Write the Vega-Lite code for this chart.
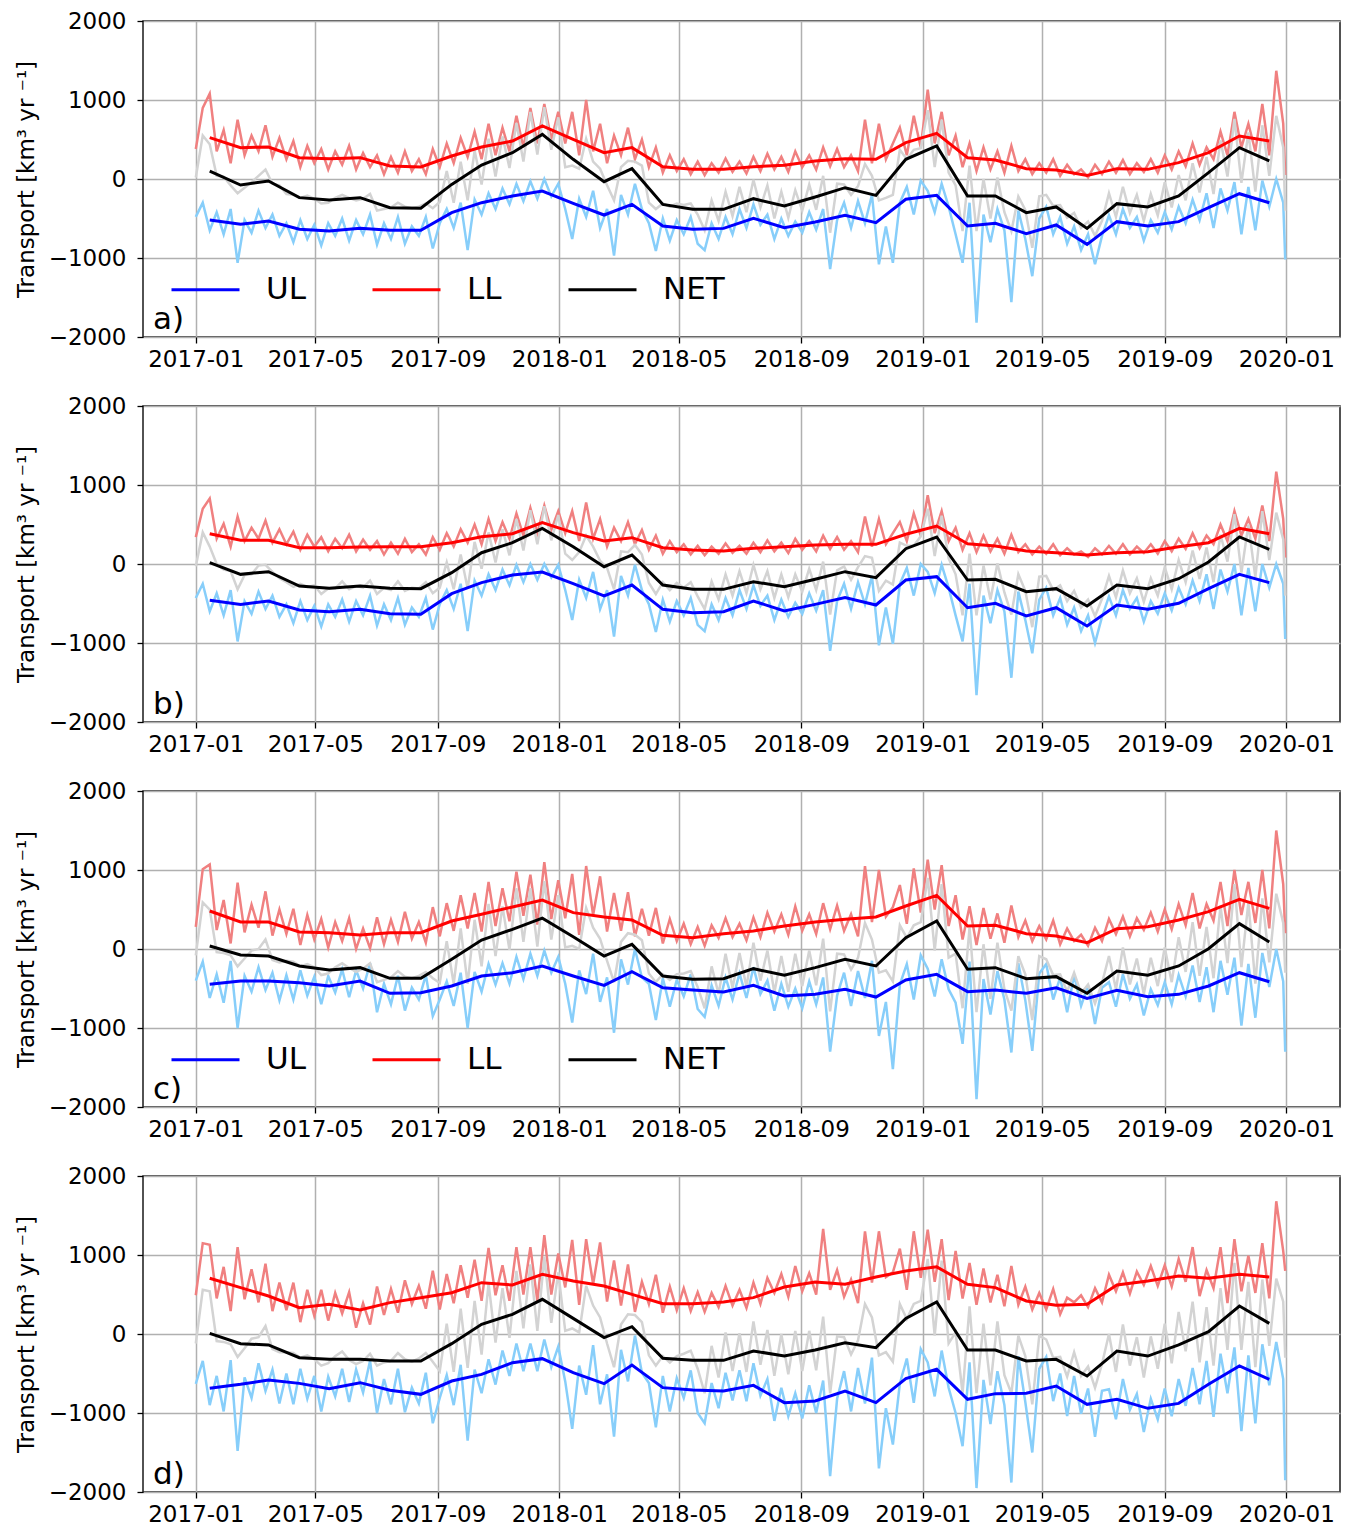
{
"$schema": "https://vega.github.io/schema/vega-lite/v6.json",
"padding": {"left": 14, "top": 9, "right": 5, "bottom": 5},
"autosize": {"type": "pad"},
"bounds": "flush",
"spacing": 69,
"config": {
 "font": "DejaVu Sans",
 "view": {"stroke": "#1a1a1a", "strokeWidth": 1.5},
 "axis": {"labelFont": "DejaVu Sans", "labelFontSize": 23, "labelColor": "#000", "titleFont": "DejaVu Sans", "titleFontSize": 23, "titleFontWeight": "normal", "titleColor": "#000", "tickColor": "#000", "tickSize": 6, "tickWidth": 1.3, "domain": false, "gridColor": "#b0b0b0", "gridWidth": 1.5, "grid": true}
},
"resolve": {"scale": {"x": "independent", "y": "independent", "color": "independent", "stroke": "independent"}},
"datasets": {
"daily": [
{"d":"2017-01-01","aU":-480,"aL":380,"aN":20,"bU":-430,"bL":340,"bN":-30,"cU":-400,"cL":280,"cN":-80,"dU":-630,"dL":490,"dN":-120},
{"d":"2017-01-08","aU":-300,"aL":900,"aN":550,"bU":-250,"bL":700,"bN":400,"cU":-160,"cL":1010,"cN":590,"dU":-340,"dL":1150,"dN":560},
{"d":"2017-01-15","aU":-650,"aL":1080,"aN":440,"bU":-600,"bL":830,"bN":220,"cU":-620,"cL":1070,"cN":500,"dU":-900,"dL":1130,"dN":540},
{"d":"2017-01-22","aU":-420,"aL":350,"aN":40,"bU":-370,"bL":320,"bN":0,"cU":-320,"cL":240,"cN":-40,"dU":-530,"dL":450,"dN":-90},
{"d":"2017-01-29","aU":-700,"aL":620,"aN":30,"bU":-650,"bL":510,"bN":-70,"cU":-680,"cL":620,"cN":-50,"dU":-980,"dL":850,"dN":-100},
{"d":"2017-02-05","aU":-380,"aL":200,"aN":-80,"bU":-330,"bL":220,"bN":-90,"cU":-150,"cL":70,"cN":-80,"dU":-330,"dL":290,"dN":-130},
{"d":"2017-02-12","aU":-1060,"aL":750,"aN":-180,"bU":-980,"bL":600,"bN":-320,"cU":-1000,"cL":840,"cN":-220,"dU":-1480,"dL":1100,"dN":-290},
{"d":"2017-02-19","aU":-520,"aL":300,"aN":-110,"bU":-470,"bL":290,"bN":-140,"cU":-340,"cL":210,"cN":-120,"dU":-550,"dL":440,"dN":-180},
{"d":"2017-02-26","aU":-680,"aL":550,"aN":-40,"bU":-630,"bL":460,"bN":-130,"cU":-540,"cL":560,"cN":-20,"dU":-810,"dL":820,"dN":-60},
{"d":"2017-03-05","aU":-400,"aL":350,"aN":40,"bU":-350,"bL":320,"bN":-20,"cU":-230,"cL":270,"cN":0,"dU":-370,"dL":400,"dN":-40},
{"d":"2017-03-12","aU":-620,"aL":680,"aN":120,"bU":-570,"bL":550,"bN":-10,"cU":-520,"cL":730,"cN":120,"dU":-720,"dL":890,"dN":100},
{"d":"2017-03-19","aU":-450,"aL":280,"aN":-60,"bU":-400,"bL":270,"bN":-100,"cU":-300,"cL":170,"cN":-140,"dU":-450,"dL":290,"dN":-190},
{"d":"2017-03-26","aU":-720,"aL":520,"aN":-80,"bU":-670,"bL":440,"bN":-180,"cU":-650,"cL":500,"cN":-170,"dU":-880,"dL":650,"dN":-230},
{"d":"2017-04-02","aU":-560,"aL":250,"aN":-190,"bU":-510,"bL":250,"bN":-230,"cU":-330,"cL":190,"cN":-150,"dU":-500,"dL":300,"dN":-230},
{"d":"2017-04-09","aU":-800,"aL":480,"aN":-200,"bU":-750,"bL":410,"bN":-290,"cU":-640,"cL":510,"cN":-160,"dU":-890,"dL":650,"dN":-240},
{"d":"2017-04-16","aU":-520,"aL":150,"aN":-240,"bU":-470,"bL":180,"bN":-250,"cU":-270,"cL":50,"cN":-220,"dU":-440,"dL":150,"dN":-300},
{"d":"2017-04-23","aU":-760,"aL":420,"aN":-210,"bU":-710,"bL":370,"bN":-290,"cU":-590,"cL":430,"cN":-190,"dU":-820,"dL":560,"dN":-270},
{"d":"2017-04-30","aU":-580,"aL":200,"aN":-250,"bU":-530,"bL":220,"bN":-270,"cU":-350,"cL":120,"cN":-230,"dU":-530,"dL":230,"dN":-320},
{"d":"2017-05-07","aU":-840,"aL":380,"aN":-310,"bU":-790,"bL":340,"bN":-380,"cU":-700,"cL":380,"cN":-330,"dU":-980,"dL":560,"dN":-400},
{"d":"2017-05-14","aU":-560,"aL":120,"aN":-300,"bU":-510,"bL":160,"bN":-310,"cU":-340,"cL":20,"cN":-310,"dU":-540,"dL":170,"dN":-370},
{"d":"2017-05-21","aU":-720,"aL":350,"aN":-240,"bU":-670,"bL":320,"bN":-310,"cU":-550,"cL":340,"cN":-230,"dU":-790,"dL":520,"dN":-280},
{"d":"2017-05-28","aU":-500,"aL":180,"aN":-200,"bU":-450,"bL":200,"bN":-220,"cU":-260,"cL":100,"cN":-180,"dU":-440,"dL":260,"dN":-220},
{"d":"2017-06-04","aU":-780,"aL":420,"aN":-240,"bU":-730,"bL":370,"bN":-320,"cU":-610,"cL":390,"cN":-240,"dU":-860,"dL":530,"dN":-330},
{"d":"2017-06-11","aU":-520,"aL":120,"aN":-270,"bU":-470,"bL":160,"bN":-280,"cU":-270,"cL":0,"cN":-290,"dU":-450,"dL":80,"dN":-380},
{"d":"2017-06-18","aU":-700,"aL":330,"aN":-250,"bU":-650,"bL":310,"bN":-300,"cU":-500,"cL":260,"cN":-250,"dU":-740,"dL":390,"dN":-340},
{"d":"2017-06-25","aU":-450,"aL":150,"aN":-190,"bU":-400,"bL":180,"bN":-210,"cU":-180,"cL":10,"cN":-180,"dU":-340,"dL":120,"dN":-250},
{"d":"2017-07-02","aU":-830,"aL":300,"aN":-400,"bU":-780,"bL":290,"bN":-380,"cU":-800,"cL":400,"cN":-420,"dU":-1000,"dL":600,"dN":-400},
{"d":"2017-07-09","aU":-560,"aL":60,"aN":-380,"bU":-510,"bL":120,"bN":-300,"cU":-440,"cL":60,"cN":-390,"dU":-570,"dL":240,"dN":-360},
{"d":"2017-07-16","aU":-760,"aL":280,"aN":-360,"bU":-710,"bL":270,"bN":-330,"cU":-700,"cL":370,"cN":-360,"dU":-890,"dL":570,"dN":-340},
{"d":"2017-07-23","aU":-480,"aL":80,"aN":-300,"bU":-430,"bL":130,"bN":-220,"cU":-340,"cL":90,"cN":-280,"dU":-440,"dL":270,"dN":-240},
{"d":"2017-07-30","aU":-820,"aL":350,"aN":-350,"bU":-770,"bL":320,"bN":-340,"cU":-780,"cL":470,"cN":-350,"dU":-990,"dL":680,"dN":-320},
{"d":"2017-08-06","aU":-600,"aL":100,"aN":-370,"bU":-550,"bL":150,"bN":-300,"cU":-490,"cL":130,"cN":-370,"dU":-680,"dL":380,"dN":-350},
{"d":"2017-08-13","aU":-720,"aL":250,"aN":-350,"bU":-670,"bL":250,"bN":-310,"cU":-640,"cL":340,"cN":-340,"dU":-880,"dL":610,"dN":-310},
{"d":"2017-08-20","aU":-480,"aL":60,"aN":-310,"bU":-430,"bL":120,"bN":-230,"cU":-330,"cL":80,"cN":-290,"dU":-490,"dL":320,"dN":-240},
{"d":"2017-08-27","aU":-880,"aL":380,"aN":-370,"bU":-830,"bL":340,"bN":-370,"cU":-850,"cL":530,"cN":-370,"dU":-1130,"dL":800,"dN":-350},
{"d":"2017-09-03","aU":-560,"aL":150,"aN":-290,"bU":-510,"bL":180,"bN":-300,"cU":-640,"cL":160,"cN":-430,"dU":-810,"dL":310,"dN":-470},
{"d":"2017-09-10","aU":-380,"aL":450,"aN":100,"bU":-330,"bL":390,"bN":20,"cU":-410,"cL":580,"cN":100,"dU":-520,"dL":760,"dN":130},
{"d":"2017-09-17","aU":-620,"aL":200,"aN":-300,"bU":-570,"bL":220,"bN":-320,"cU":-720,"cL":230,"cN":-440,"dU":-900,"dL":390,"dN":-480},
{"d":"2017-09-24","aU":-300,"aL":520,"aN":220,"bU":-250,"bL":440,"bN":120,"cU":-300,"cL":680,"cN":260,"dU":-390,"dL":870,"dN":320},
{"d":"2017-10-01","aU":-900,"aL":280,"aN":-270,"bU":-850,"bL":270,"bN":-310,"cU":-1000,"cL":260,"cN":-440,"dU":-1350,"dL":460,"dN":-430},
{"d":"2017-10-08","aU":-260,"aL":600,"aN":360,"bU":-210,"bL":500,"bN":280,"cU":-290,"cL":710,"cN":370,"dU":-450,"dL":940,"dN":420},
{"d":"2017-10-15","aU":-450,"aL":250,"aN":-70,"bU":-400,"bL":250,"bN":-60,"cU":-540,"cL":220,"cN":-220,"dU":-750,"dL":420,"dN":-260},
{"d":"2017-10-22","aU":-180,"aL":700,"aN":510,"bU":-130,"bL":570,"bN":400,"cU":-190,"cL":850,"cN":570,"dU":-320,"dL":1090,"dN":640},
{"d":"2017-10-29","aU":-380,"aL":300,"aN":30,"bU":-330,"bL":290,"bN":20,"cU":-450,"cL":290,"cN":-90,"dU":-640,"dL":490,"dN":-110},
{"d":"2017-11-05","aU":-120,"aL":650,"aN":540,"bU":-70,"bL":530,"bN":440,"cU":-180,"cL":770,"cN":540,"dU":-210,"dL":870,"dN":580},
{"d":"2017-11-12","aU":-320,"aL":350,"aN":140,"bU":-270,"bL":320,"bN":110,"cU":-440,"cL":350,"cN":-10,"dU":-530,"dL":420,"dN":-50},
{"d":"2017-11-19","aU":-60,"aL":800,"aN":710,"bU":-10,"bL":640,"bN":570,"cU":-100,"cL":980,"cN":770,"dU":-120,"dL":1100,"dN":800},
{"d":"2017-11-26","aU":-280,"aL":400,"aN":220,"bU":-230,"bL":360,"bN":170,"cU":-380,"cL":420,"cN":90,"dU":-470,"dL":500,"dN":70},
{"d":"2017-12-03","aU":-30,"aL":900,"aN":850,"bU":0,"bL":710,"bN":680,"cU":-60,"cL":940,"cN":770,"dU":-120,"dL":1100,"dN":880},
{"d":"2017-12-10","aU":-250,"aL":450,"aN":310,"bU":-200,"bL":390,"bN":250,"cU":-340,"cL":310,"cN":30,"dU":-470,"dL":420,"dN":40},
{"d":"2017-12-17","aU":0,"aL":950,"aN":910,"bU":0,"bL":740,"bN":730,"cU":-20,"cL":1100,"cN":860,"dU":-70,"dL":1250,"dN":980},
{"d":"2017-12-24","aU":-220,"aL":500,"aN":370,"bU":-170,"bL":430,"bN":300,"cU":-300,"cL":380,"cN":120,"dU":-420,"dL":500,"dN":140},
{"d":"2017-12-31","aU":-60,"aL":850,"aN":780,"bU":-10,"bL":670,"bN":620,"cU":-100,"cL":870,"cN":680,"dU":-160,"dL":1020,"dN":780},
{"d":"2018-01-07","aU":-380,"aL":450,"aN":150,"bU":-330,"bL":390,"bN":130,"cU":-440,"cL":390,"cN":20,"dU":-600,"dL":590,"dN":40},
{"d":"2018-01-14","aU":-760,"aL":850,"aN":170,"bU":-710,"bL":670,"bN":50,"cU":-930,"cL":950,"cN":40,"dU":-1200,"dL":1190,"dN":70},
{"d":"2018-01-21","aU":-250,"aL":300,"aN":130,"bU":-200,"bL":290,"bN":150,"cU":-270,"cL":180,"cN":0,"dU":-400,"dL":370,"dN":20},
{"d":"2018-01-28","aU":-480,"aL":1000,"aN":510,"bU":-430,"bL":780,"bN":360,"cU":-570,"cL":1050,"cN":520,"dU":-770,"dL":1200,"dN":610},
{"d":"2018-02-04","aU":-150,"aL":350,"aN":220,"bU":-100,"bL":320,"bN":220,"cU":-60,"cL":430,"cN":270,"dU":-140,"dL":630,"dN":360},
{"d":"2018-02-11","aU":-620,"aL":700,"aN":130,"bU":-570,"bL":570,"bN":40,"cU":-670,"cL":920,"cN":130,"dU":-890,"dL":1160,"dN":210},
{"d":"2018-02-18","aU":-380,"aL":200,"aN":-80,"bU":-330,"bL":220,"bN":-50,"cU":-360,"cL":220,"cN":-150,"dU":-510,"dL":410,"dN":-120},
{"d":"2018-02-25","aU":-970,"aL":550,"aN":-270,"bU":-920,"bL":460,"bN":-320,"cU":-1060,"cL":710,"cN":-420,"dU":-1300,"dL":930,"dN":-420},
{"d":"2018-03-04","aU":-200,"aL":300,"aN":150,"bU":-150,"bL":290,"bN":160,"cU":-130,"cL":230,"cN":90,"dU":-200,"dL":360,"dN":120},
{"d":"2018-03-11","aU":-450,"aL":650,"aN":230,"bU":-400,"bL":530,"bN":150,"cU":-450,"cL":720,"cN":200,"dU":-600,"dL":880,"dN":250},
{"d":"2018-03-18","aU":-60,"aL":250,"aN":220,"bU":-10,"bL":250,"bN":240,"cU":0,"cL":160,"cN":180,"dU":-20,"dL":280,"dN":240},
{"d":"2018-03-25","aU":-380,"aL":500,"aN":170,"bU":-330,"bL":430,"bN":120,"cU":-360,"cL":510,"cN":110,"dU":-490,"dL":660,"dN":150},
{"d":"2018-04-01","aU":-560,"aL":150,"aN":-300,"bU":-510,"bL":180,"bN":-240,"cU":-440,"cL":170,"cN":-310,"dU":-620,"dL":380,"dN":-270},
{"d":"2018-04-08","aU":-910,"aL":400,"aN":-380,"bU":-860,"bL":360,"bN":-380,"cU":-900,"cL":520,"cN":-420,"dU":-1180,"dL":750,"dN":-400},
{"d":"2018-04-15","aU":-500,"aL":80,"aN":-310,"bU":-450,"bL":130,"bN":-230,"cU":-370,"cL":70,"cN":-320,"dU":-530,"dL":270,"dN":-280},
{"d":"2018-04-22","aU":-780,"aL":300,"aN":-350,"bU":-730,"bL":290,"bN":-330,"cU":-730,"cL":380,"cN":-390,"dU":-980,"dL":600,"dN":-360},
{"d":"2018-04-29","aU":-520,"aL":100,"aN":-310,"bU":-470,"bL":150,"bN":-240,"cU":-390,"cL":100,"cN":-320,"dU":-560,"dL":300,"dN":-280},
{"d":"2018-05-06","aU":-700,"aL":250,"aN":-330,"bU":-650,"bL":250,"bN":-300,"cU":-600,"cL":320,"cN":-310,"dU":-810,"dL":580,"dN":-250},
{"d":"2018-05-13","aU":-480,"aL":60,"aN":-310,"bU":-430,"bL":120,"bN":-230,"cU":-320,"cL":60,"cN":-280,"dU":-460,"dL":290,"dN":-210},
{"d":"2018-05-20","aU":-820,"aL":220,"aN":-450,"bU":-770,"bL":230,"bN":-410,"cU":-760,"cL":280,"cN":-480,"dU":-1000,"dL":530,"dN":-440},
{"d":"2018-05-27","aU":-900,"aL":50,"aN":-650,"bU":-850,"bL":110,"bN":-570,"cU":-860,"cL":40,"cN":-750,"dU":-1130,"dL":280,"dN":-750},
{"d":"2018-06-03","aU":-560,"aL":200,"aN":-270,"bU":-510,"bL":220,"bN":-220,"cU":-460,"cL":300,"cN":-220,"dU":-620,"dL":520,"dN":-150},
{"d":"2018-06-10","aU":-760,"aL":80,"aN":-530,"bU":-710,"bL":130,"bN":-450,"cU":-720,"cL":140,"cN":-570,"dU":-940,"dL":340,"dN":-550},
{"d":"2018-06-17","aU":-480,"aL":260,"aN":-160,"bU":-430,"bL":260,"bN":-130,"cU":-360,"cL":390,"cN":-60,"dU":-490,"dL":610,"dN":20},
{"d":"2018-06-24","aU":-700,"aL":90,"aN":-470,"bU":-650,"bL":140,"bN":-400,"cU":-640,"cL":150,"cN":-490,"dU":-840,"dL":360,"dN":-470},
{"d":"2018-07-01","aU":-380,"aL":220,"aN":-100,"bU":-330,"bL":230,"bN":-90,"cU":-310,"cL":320,"cN":-50,"dU":-460,"dL":560,"dN":10},
{"d":"2018-07-08","aU":-620,"aL":70,"aN":-420,"bU":-570,"bL":130,"bN":-370,"cU":-620,"cL":110,"cN":-480,"dU":-850,"dL":330,"dN":-480},
{"d":"2018-07-15","aU":-320,"aL":280,"aN":-10,"bU":-270,"bL":270,"bN":-10,"cU":-230,"cL":400,"cN":80,"dU":-370,"dL":650,"dN":160},
{"d":"2018-07-22","aU":-580,"aL":100,"aN":-360,"bU":-530,"bL":150,"bN":-320,"cU":-570,"cL":150,"cN":-400,"dU":-780,"dL":380,"dN":-390},
{"d":"2018-07-29","aU":-450,"aL":320,"aN":-80,"bU":-400,"bL":300,"bN":-90,"cU":-400,"cL":460,"cN":-20,"dU":-570,"dL":710,"dN":50},
{"d":"2018-08-05","aU":-760,"aL":120,"aN":-500,"bU":-710,"bL":160,"bN":-430,"cU":-780,"cL":220,"cN":-550,"dU":-1100,"dL":520,"dN":-530},
{"d":"2018-08-12","aU":-500,"aL":280,"aN":-160,"bU":-450,"bL":270,"bN":-130,"cU":-440,"cL":440,"cN":-90,"dU":-680,"dL":760,"dN":0},
{"d":"2018-08-19","aU":-720,"aL":90,"aN":-490,"bU":-670,"bL":140,"bN":-420,"cU":-730,"cL":180,"cN":-540,"dU":-1040,"dL":470,"dN":-510},
{"d":"2018-08-26","aU":-540,"aL":350,"aN":-140,"bU":-490,"bL":320,"bN":-130,"cU":-500,"cL":540,"cN":-60,"dU":-750,"dL":860,"dN":40},
{"d":"2018-09-02","aU":-680,"aL":150,"aN":-400,"bU":-630,"bL":180,"bN":-350,"cU":-750,"cL":230,"cN":-470,"dU":-1070,"dL":540,"dN":-470},
{"d":"2018-09-09","aU":-420,"aL":300,"aN":-70,"bU":-370,"bL":290,"bN":-60,"cU":-410,"cL":440,"cN":-20,"dU":-650,"dL":770,"dN":40},
{"d":"2018-09-16","aU":-640,"aL":120,"aN":-390,"bU":-590,"bL":160,"bN":-330,"cU":-700,"cL":190,"cN":-460,"dU":-1000,"dL":500,"dN":-460},
{"d":"2018-09-23","aU":-380,"aL":400,"aN":40,"bU":-330,"bL":360,"bN":30,"cU":-360,"cL":580,"cN":130,"dU":-590,"dL":1330,"dN":220},
{"d":"2018-09-30","aU":-1140,"aL":160,"aN":-680,"bU":-1100,"bL":190,"bN":-640,"cU":-1300,"cL":250,"cN":-790,"dU":-1800,"dL":560,"dN":-750},
{"d":"2018-10-07","aU":-520,"aL":380,"aN":-60,"bU":-470,"bL":340,"bN":-80,"cU":-590,"cL":550,"cN":-60,"dU":-820,"dL":810,"dN":-30},
{"d":"2018-10-14","aU":-300,"aL":150,"aN":-70,"bU":-250,"bL":180,"bN":-30,"cU":-300,"cL":230,"cN":-70,"dU":-470,"dL":470,"dN":-40},
{"d":"2018-10-21","aU":-620,"aL":300,"aN":-200,"bU":-570,"bL":290,"bN":-200,"cU":-720,"cL":440,"cN":-260,"dU":-980,"dL":690,"dN":-260},
{"d":"2018-10-28","aU":-280,"aL":100,"aN":-90,"bU":-230,"bL":150,"bN":-40,"cU":-280,"cL":160,"cN":-110,"dU":-430,"dL":390,"dN":-80},
{"d":"2018-11-04","aU":-560,"aL":750,"aN":190,"bU":-510,"bL":600,"bN":100,"cU":-620,"cL":1050,"cN":330,"dU":-880,"dL":1300,"dN":380},
{"d":"2018-11-11","aU":-200,"aL":200,"aN":40,"bU":-150,"bL":220,"bN":80,"cU":-150,"cL":340,"cN":120,"dU":-300,"dL":650,"dN":210},
{"d":"2018-11-18","aU":-1080,"aL":700,"aN":-270,"bU":-1030,"bL":570,"bN":-340,"cU":-1100,"cL":1000,"cN":-300,"dU":-1700,"dL":1300,"dN":-270},
{"d":"2018-11-25","aU":-600,"aL":250,"aN":-240,"bU":-550,"bL":250,"bN":-210,"cU":-670,"cL":410,"cN":-270,"dU":-940,"dL":720,"dN":-230},
{"d":"2018-12-02","aU":-1060,"aL":450,"aN":-200,"bU":-1010,"bL":390,"bN":-260,"cU":-1520,"cL":530,"cN":-410,"dU":-1400,"dL":780,"dN":-350},
{"d":"2018-12-09","aU":-300,"aL":650,"aN":370,"bU":-250,"bL":530,"bN":270,"cU":-450,"cL":810,"cN":300,"dU":-630,"dL":1080,"dN":380},
{"d":"2018-12-16","aU":-100,"aL":300,"aN":250,"bU":-50,"bL":290,"bN":230,"cU":-190,"cL":320,"cN":140,"dU":-310,"dL":560,"dN":190},
{"d":"2018-12-23","aU":-450,"aL":800,"aN":370,"bU":-400,"bL":640,"bN":230,"cU":-640,"cL":1020,"cN":300,"dU":-870,"dL":1300,"dN":380},
{"d":"2018-12-30","aU":-20,"aL":400,"aN":390,"bU":0,"bL":360,"bN":350,"cU":-80,"cL":460,"cN":340,"dU":-190,"dL":710,"dN":420},
{"d":"2019-01-06","aU":-150,"aL":1130,"aN":870,"bU":-100,"bL":870,"bN":700,"cU":-250,"cL":1130,"cN":900,"dU":-360,"dL":1320,"dN":950},
{"d":"2019-01-13","aU":-420,"aL":450,"aN":150,"bU":-370,"bL":390,"bN":100,"cU":-600,"cL":500,"cN":-20,"dU":-790,"dL":660,"dN":-20},
{"d":"2019-01-20","aU":-60,"aL":850,"aN":750,"bU":-10,"bL":670,"bN":610,"cU":-130,"cL":1060,"cN":820,"dU":-210,"dL":1200,"dN":930},
{"d":"2019-01-27","aU":-350,"aL":300,"aN":80,"bU":-300,"bL":290,"bN":70,"cU":-510,"cL":290,"cN":-110,"dU":-680,"dL":430,"dN":-120},
{"d":"2019-02-03","aU":-700,"aL":550,"aN":-80,"bU":-650,"bL":460,"bN":-130,"cU":-680,"cL":680,"cN":-60,"dU":-1000,"dL":1050,"dN":20},
{"d":"2019-02-10","aU":-1060,"aL":150,"aN":-660,"bU":-980,"bL":180,"bN":-650,"cU":-1200,"cL":120,"cN":-750,"dU":-1420,"dL":450,"dN":-750},
{"d":"2019-02-17","aU":-300,"aL":450,"aN":170,"bU":-250,"bL":390,"bN":130,"cU":-160,"cL":540,"cN":270,"dU":-360,"dL":900,"dN":350},
{"d":"2019-02-24","aU":-1820,"aL":100,"aN":-660,"bU":-1660,"bL":150,"bN":-650,"cU":-1900,"cL":50,"cN":-800,"dU":-1950,"dL":370,"dN":-750},
{"d":"2019-03-03","aU":-450,"aL":400,"aN":0,"bU":-400,"bL":360,"bN":-20,"cU":-380,"cL":520,"cN":60,"dU":-580,"dL":830,"dN":130},
{"d":"2019-03-10","aU":-800,"aL":120,"aN":-500,"bU":-750,"bL":160,"bN":-450,"cU":-830,"cL":130,"cN":-630,"dU":-1140,"dL":400,"dN":-650},
{"d":"2019-03-17","aU":-380,"aL":350,"aN":20,"bU":-330,"bL":320,"bN":10,"cU":-280,"cL":450,"cN":80,"dU":-470,"dL":750,"dN":160},
{"d":"2019-03-24","aU":-650,"aL":80,"aN":-420,"bU":-600,"bL":130,"bN":-360,"cU":-640,"cL":80,"cN":-510,"dU":-900,"dL":350,"dN":-520},
{"d":"2019-03-31","aU":-1560,"aL":420,"aN":-660,"bU":-1440,"bL":370,"bN":-640,"cU":-1310,"cL":550,"cN":-780,"dU":-1880,"dL":860,"dN":-750},
{"d":"2019-04-07","aU":-400,"aL":100,"aN":-220,"bU":-350,"bL":150,"bN":-130,"cU":-180,"cL":150,"cN":-90,"dU":-280,"dL":370,"dN":-20},
{"d":"2019-04-14","aU":-760,"aL":250,"aN":-390,"bU":-710,"bL":250,"bN":-340,"cU":-650,"cL":360,"cN":-320,"dU":-860,"dL":600,"dN":-280},
{"d":"2019-04-21","aU":-1230,"aL":60,"aN":-870,"bU":-1130,"bL":120,"bN":-800,"cU":-1290,"cL":100,"cN":-900,"dU":-1500,"dL":310,"dN":-890},
{"d":"2019-04-28","aU":-500,"aL":200,"aN":-220,"bU":-450,"bL":220,"bN":-160,"cU":-310,"cL":290,"cN":-90,"dU":-440,"dL":520,"dN":-20},
{"d":"2019-05-05","aU":-350,"aL":80,"aN":-200,"bU":-300,"bL":130,"bN":-150,"cU":-190,"cL":120,"cN":-130,"dU":-290,"dL":310,"dN":-70},
{"d":"2019-05-12","aU":-700,"aL":250,"aN":-340,"bU":-650,"bL":250,"bN":-330,"cU":-640,"cL":360,"cN":-330,"dU":-850,"dL":570,"dN":-300},
{"d":"2019-05-19","aU":-480,"aL":40,"aN":-330,"bU":-430,"bL":110,"bN":-270,"cU":-360,"cL":60,"cN":-320,"dU":-500,"dL":250,"dN":-290},
{"d":"2019-05-26","aU":-820,"aL":180,"aN":-490,"bU":-770,"bL":200,"bN":-470,"cU":-800,"cL":260,"cN":-540,"dU":-1040,"dL":460,"dN":-540},
{"d":"2019-06-02","aU":-600,"aL":60,"aN":-430,"bU":-550,"bL":120,"bN":-340,"cU":-330,"cL":100,"cN":-300,"dU":-530,"dL":400,"dN":-230},
{"d":"2019-06-09","aU":-900,"aL":120,"aN":-620,"bU":-850,"bL":160,"bN":-550,"cU":-720,"cL":180,"cN":-560,"dU":-1010,"dL":490,"dN":-530},
{"d":"2019-06-16","aU":-700,"aL":20,"aN":-540,"bU":-650,"bL":90,"bN":-450,"cU":-460,"cL":40,"cN":-450,"dU":-690,"dL":340,"dN":-410},
{"d":"2019-06-23","aU":-1080,"aL":180,"aN":-720,"bU":-1000,"bL":200,"bN":-660,"cU":-950,"cL":270,"cN":-690,"dU":-1300,"dL":580,"dN":-680},
{"d":"2019-06-30","aU":-720,"aL":60,"aN":-530,"bU":-670,"bL":120,"bN":-440,"cU":-490,"cL":100,"cN":-430,"dU":-720,"dL":400,"dN":-380},
{"d":"2019-07-07","aU":-460,"aL":220,"aN":-180,"bU":-410,"bL":230,"bN":-150,"cU":-420,"cL":380,"cN":-90,"dU":-700,"dL":750,"dN":0},
{"d":"2019-07-14","aU":-700,"aL":80,"aN":-480,"bU":-650,"bL":130,"bN":-420,"cU":-730,"cL":190,"cN":-510,"dU":-1080,"dL":540,"dN":-480},
{"d":"2019-07-21","aU":-380,"aL":240,"aN":-100,"bU":-330,"bL":250,"bN":-80,"cU":-320,"cL":410,"cN":20,"dU":-570,"dL":780,"dN":120},
{"d":"2019-07-28","aU":-620,"aL":60,"aN":-430,"bU":-570,"bL":120,"bN":-370,"cU":-630,"cL":160,"cN":-450,"dU":-960,"dL":510,"dN":-400},
{"d":"2019-08-04","aU":-480,"aL":200,"aN":-200,"bU":-430,"bL":220,"bN":-180,"cU":-450,"cL":390,"cN":-120,"dU":-760,"dL":790,"dN":-40},
{"d":"2019-08-11","aU":-780,"aL":90,"aN":-530,"bU":-730,"bL":140,"bN":-480,"cU":-840,"cL":240,"cN":-570,"dU":-1240,"dL":620,"dN":-550},
{"d":"2019-08-18","aU":-520,"aL":250,"aN":-190,"bU":-470,"bL":250,"bN":-180,"cU":-510,"cL":460,"cN":-110,"dU":-820,"dL":860,"dN":-30},
{"d":"2019-08-25","aU":-680,"aL":80,"aN":-460,"bU":-630,"bL":130,"bN":-400,"cU":-710,"cL":220,"cN":-470,"dU":-1080,"dL":610,"dN":-440},
{"d":"2019-09-01","aU":-420,"aL":300,"aN":-40,"bU":-370,"bL":290,"bN":-40,"cU":-420,"cL":500,"cN":20,"dU":-690,"dL":870,"dN":130},
{"d":"2019-09-08","aU":-640,"aL":120,"aN":-360,"bU":-590,"bL":160,"bN":-320,"cU":-700,"cL":250,"cN":-420,"dU":-1040,"dL":600,"dN":-370},
{"d":"2019-09-15","aU":-350,"aL":350,"aN":50,"bU":-300,"bL":320,"bN":50,"cU":-330,"cL":570,"cN":150,"dU":-570,"dL":950,"dN":280},
{"d":"2019-09-22","aU":-560,"aL":160,"aN":-270,"bU":-510,"bL":190,"bN":-230,"cU":-600,"cL":300,"cN":-290,"dU":-910,"dL":660,"dN":-220},
{"d":"2019-09-29","aU":-260,"aL":450,"aN":200,"bU":-210,"bL":390,"bN":170,"cU":-210,"cL":710,"cN":340,"dU":-430,"dL":1100,"dN":410},
{"d":"2019-10-06","aU":-520,"aL":180,"aN":-170,"bU":-470,"bL":200,"bN":-190,"cU":-670,"cL":260,"cN":-340,"dU":-890,"dL":480,"dN":-360},
{"d":"2019-10-13","aU":-180,"aL":400,"aN":280,"bU":-130,"bL":360,"bN":210,"cU":-230,"cL":570,"cN":280,"dU":-340,"dL":810,"dN":340},
{"d":"2019-10-20","aU":-620,"aL":250,"aN":-190,"bU":-570,"bL":250,"bN":-230,"cU":-800,"cL":360,"cN":-370,"dU":-1050,"dL":580,"dN":-400},
{"d":"2019-10-27","aU":-120,"aL":600,"aN":490,"bU":-70,"bL":500,"bN":370,"cU":-150,"cL":850,"cN":550,"dU":-250,"dL":1100,"dN":580},
{"d":"2019-11-03","aU":-400,"aL":300,"aN":30,"bU":-350,"bL":290,"bN":30,"cU":-580,"cL":290,"cN":-180,"dU":-750,"dL":390,"dN":-200},
{"d":"2019-11-10","aU":-40,"aL":850,"aN":760,"bU":0,"bL":670,"bN":630,"cU":-110,"cL":1000,"cN":820,"dU":-170,"dL":1200,"dN":900},
{"d":"2019-11-17","aU":-700,"aL":400,"aN":-50,"bU":-650,"bL":360,"bN":-110,"cU":-970,"cL":430,"cN":-230,"dU":-1230,"dL":540,"dN":-200},
{"d":"2019-11-24","aU":-100,"aL":700,"aN":590,"bU":-50,"bL":570,"bN":500,"cU":-190,"cL":850,"cN":590,"dU":-270,"dL":990,"dN":660},
{"d":"2019-12-01","aU":-650,"aL":350,"aN":-160,"bU":-600,"bL":320,"bN":-170,"cU":-870,"cL":330,"cN":-440,"dU":-1130,"dL":520,"dN":-420},
{"d":"2019-12-08","aU":-20,"aL":950,"aN":680,"bU":0,"bL":740,"bN":670,"cU":-50,"cL":1000,"cN":640,"dU":-130,"dL":1150,"dN":690},
{"d":"2019-12-15","aU":-350,"aL":300,"aN":40,"bU":-300,"bL":290,"bN":50,"cU":-480,"cL":260,"cN":-170,"dU":-650,"dL":450,"dN":-150},
{"d":"2019-12-22","aU":0,"aL":1370,"aN":800,"bU":0,"bL":1170,"bN":650,"cU":0,"cL":1500,"cN":700,"dU":-100,"dL":1680,"dN":700},
{"d":"2019-12-29","aU":-300,"aL":700,"aN":400,"bU":-250,"bL":570,"bN":310,"cU":-410,"cL":820,"cN":330,"dU":-570,"dL":1050,"dN":410},
{"d":"2019-12-31","aU":-1020,"aL":50,"aN":-400,"bU":-950,"bL":80,"bN":-400,"cU":-1300,"cL":200,"cN":-300,"dU":-1850,"dL":800,"dN":-300}
],
"ma": [
{"d":"2017-01-15","UL":-519,"LL":523,"NET":101},{"d":"2017-02-15","UL":-574,"LL":397,"NET":-76},{"d":"2017-03-15","UL":-532,"LL":405,"NET":-25},{"d":"2017-04-15","UL":-637,"LL":270,"NET":-236},{"d":"2017-05-15","UL":-658,"LL":257,"NET":-266},{"d":"2017-06-15","UL":-625,"LL":270,"NET":-236},{"d":"2017-07-15","UL":-650,"LL":165,"NET":-363},{"d":"2017-08-15","UL":-650,"LL":152,"NET":-371},{"d":"2017-09-15","UL":-426,"LL":291,"NET":-68},{"d":"2017-10-15","UL":-300,"LL":405,"NET":177},{"d":"2017-11-15","UL":-215,"LL":481,"NET":333},{"d":"2017-12-15","UL":-152,"LL":671,"NET":565},
{"d":"2018-01-15","UL":-308,"LL":502,"NET":249},{"d":"2018-02-15","UL":-456,"LL":333,"NET":-34},{"d":"2018-03-15","UL":-321,"LL":397,"NET":131},{"d":"2018-04-15","UL":-595,"LL":156,"NET":-321},{"d":"2018-05-15","UL":-637,"LL":122,"NET":-384},{"d":"2018-06-15","UL":-625,"LL":122,"NET":-384},{"d":"2018-07-15","UL":-498,"LL":156,"NET":-249},{"d":"2018-08-15","UL":-616,"LL":173,"NET":-342},{"d":"2018-09-15","UL":-544,"LL":228,"NET":-228},{"d":"2018-10-15","UL":-460,"LL":257,"NET":-110},{"d":"2018-11-15","UL":-553,"LL":249,"NET":-207},{"d":"2018-12-15","UL":-257,"LL":460,"NET":249},
{"d":"2019-01-15","UL":-207,"LL":578,"NET":418},{"d":"2019-02-15","UL":-595,"LL":270,"NET":-215},{"d":"2019-03-15","UL":-561,"LL":241,"NET":-215},{"d":"2019-04-15","UL":-692,"LL":131,"NET":-426},{"d":"2019-05-15","UL":-582,"LL":114,"NET":-354},{"d":"2019-06-15","UL":-827,"LL":46,"NET":-625},{"d":"2019-07-15","UL":-540,"LL":131,"NET":-312},{"d":"2019-08-15","UL":-595,"LL":122,"NET":-354},{"d":"2019-09-15","UL":-540,"LL":207,"NET":-215},{"d":"2019-10-15","UL":-363,"LL":333,"NET":80},{"d":"2019-11-15","UL":-186,"LL":544,"NET":397},{"d":"2019-12-15","UL":-300,"LL":481,"NET":228}
],
"mb": [
{"d":"2017-01-15","UL":-460,"LL":384,"NET":17},{"d":"2017-02-15","UL":-511,"LL":300,"NET":-131},{"d":"2017-03-15","UL":-468,"LL":300,"NET":-97},{"d":"2017-04-15","UL":-582,"LL":207,"NET":-279},{"d":"2017-05-15","UL":-603,"LL":207,"NET":-308},{"d":"2017-06-15","UL":-574,"LL":215,"NET":-279},{"d":"2017-07-15","UL":-629,"LL":219,"NET":-308},{"d":"2017-08-15","UL":-637,"LL":219,"NET":-312},{"d":"2017-09-15","UL":-376,"LL":270,"NET":-110},{"d":"2017-10-15","UL":-236,"LL":346,"NET":143},{"d":"2017-11-15","UL":-139,"LL":384,"NET":270},{"d":"2017-12-15","UL":-101,"LL":523,"NET":450},
{"d":"2018-01-15","UL":-249,"LL":397,"NET":219},{"d":"2018-02-15","UL":-405,"LL":291,"NET":-34},{"d":"2018-03-15","UL":-266,"LL":333,"NET":114},{"d":"2018-04-15","UL":-574,"LL":207,"NET":-266},{"d":"2018-05-15","UL":-616,"LL":177,"NET":-321},{"d":"2018-06-15","UL":-603,"LL":165,"NET":-321},{"d":"2018-07-15","UL":-468,"LL":198,"NET":-224},{"d":"2018-08-15","UL":-595,"LL":219,"NET":-287},{"d":"2018-09-15","UL":-511,"LL":241,"NET":-194},{"d":"2018-10-15","UL":-426,"LL":249,"NET":-97},{"d":"2018-11-15","UL":-519,"LL":249,"NET":-173},{"d":"2018-12-15","UL":-203,"LL":376,"NET":194},
{"d":"2019-01-15","UL":-160,"LL":481,"NET":342},{"d":"2019-02-15","UL":-553,"LL":257,"NET":-203},{"d":"2019-03-15","UL":-498,"LL":228,"NET":-194},{"d":"2019-04-15","UL":-658,"LL":165,"NET":-350},{"d":"2019-05-15","UL":-553,"LL":143,"NET":-312},{"d":"2019-06-15","UL":-785,"LL":114,"NET":-532},{"d":"2019-07-15","UL":-519,"LL":143,"NET":-266},{"d":"2019-08-15","UL":-574,"LL":156,"NET":-312},{"d":"2019-09-15","UL":-498,"LL":219,"NET":-186},{"d":"2019-10-15","UL":-312,"LL":270,"NET":25},{"d":"2019-11-15","UL":-131,"LL":452,"NET":342},{"d":"2019-12-15","UL":-236,"LL":384,"NET":186}
],
"mc": [
{"d":"2017-01-15","UL":-447,"LL":481,"NET":38},{"d":"2017-02-15","UL":-405,"LL":342,"NET":-76},{"d":"2017-03-15","UL":-405,"LL":342,"NET":-89},{"d":"2017-04-15","UL":-426,"LL":215,"NET":-215},{"d":"2017-05-15","UL":-468,"LL":207,"NET":-266},{"d":"2017-06-15","UL":-405,"LL":177,"NET":-236},{"d":"2017-07-15","UL":-561,"LL":207,"NET":-371},{"d":"2017-08-15","UL":-553,"LL":207,"NET":-371},{"d":"2017-09-15","UL":-468,"LL":354,"NET":-131},{"d":"2017-10-15","UL":-342,"LL":439,"NET":114},{"d":"2017-11-15","UL":-300,"LL":532,"NET":249},{"d":"2017-12-15","UL":-215,"LL":620,"NET":390},
{"d":"2018-01-15","UL":-342,"LL":460,"NET":156},{"d":"2018-02-15","UL":-460,"LL":405,"NET":-89},{"d":"2018-03-15","UL":-287,"LL":367,"NET":59},{"d":"2018-04-15","UL":-490,"LL":173,"NET":-342},{"d":"2018-05-15","UL":-519,"LL":143,"NET":-384},{"d":"2018-06-15","UL":-544,"LL":194,"NET":-376},{"d":"2018-07-15","UL":-460,"LL":228,"NET":-249},{"d":"2018-08-15","UL":-595,"LL":291,"NET":-333},{"d":"2018-09-15","UL":-574,"LL":342,"NET":-236},{"d":"2018-10-15","UL":-511,"LL":376,"NET":-131},{"d":"2018-11-15","UL":-608,"LL":405,"NET":-215},{"d":"2018-12-15","UL":-392,"LL":544,"NET":143},
{"d":"2019-01-15","UL":-321,"LL":679,"NET":354},{"d":"2019-02-15","UL":-540,"LL":291,"NET":-257},{"d":"2019-03-15","UL":-519,"LL":300,"NET":-236},{"d":"2019-04-15","UL":-561,"LL":194,"NET":-376},{"d":"2019-05-15","UL":-490,"LL":165,"NET":-350},{"d":"2019-06-15","UL":-625,"LL":80,"NET":-561},{"d":"2019-07-15","UL":-523,"LL":257,"NET":-279},{"d":"2019-08-15","UL":-603,"LL":283,"NET":-333},{"d":"2019-09-15","UL":-574,"LL":367,"NET":-215},{"d":"2019-10-15","UL":-468,"LL":473,"NET":4},{"d":"2019-11-15","UL":-300,"LL":629,"NET":321},{"d":"2019-12-15","UL":-414,"LL":515,"NET":89}
],
"md": [
{"d":"2017-01-15","UL":-688,"LL":705,"NET":8},{"d":"2017-02-15","UL":-637,"LL":587,"NET":-122},{"d":"2017-03-15","UL":-582,"LL":481,"NET":-139},{"d":"2017-04-15","UL":-625,"LL":333,"NET":-300},{"d":"2017-05-15","UL":-692,"LL":376,"NET":-321},{"d":"2017-06-15","UL":-616,"LL":304,"NET":-321},{"d":"2017-07-15","UL":-713,"LL":397,"NET":-342},{"d":"2017-08-15","UL":-764,"LL":460,"NET":-342},{"d":"2017-09-15","UL":-595,"LL":523,"NET":-122},{"d":"2017-10-15","UL":-511,"LL":650,"NET":122},{"d":"2017-11-15","UL":-363,"LL":620,"NET":249},{"d":"2017-12-15","UL":-312,"LL":755,"NET":439},
{"d":"2018-01-15","UL":-490,"LL":671,"NET":198},{"d":"2018-02-15","UL":-629,"LL":608,"NET":-46},{"d":"2018-03-15","UL":-392,"LL":502,"NET":93},{"d":"2018-04-15","UL":-679,"LL":384,"NET":-308},{"d":"2018-05-15","UL":-709,"LL":384,"NET":-333},{"d":"2018-06-15","UL":-722,"LL":405,"NET":-333},{"d":"2018-07-15","UL":-650,"LL":460,"NET":-215},{"d":"2018-08-15","UL":-869,"LL":595,"NET":-279},{"d":"2018-09-15","UL":-848,"LL":658,"NET":-203},{"d":"2018-10-15","UL":-722,"LL":629,"NET":-110},{"d":"2018-11-15","UL":-869,"LL":722,"NET":-173},{"d":"2018-12-15","UL":-565,"LL":798,"NET":198},
{"d":"2019-01-15","UL":-447,"LL":850,"NET":405},{"d":"2019-02-15","UL":-827,"LL":629,"NET":-203},{"d":"2019-03-15","UL":-755,"LL":587,"NET":-203},{"d":"2019-04-15","UL":-751,"LL":418,"NET":-342},{"d":"2019-05-15","UL":-658,"LL":363,"NET":-321},{"d":"2019-06-15","UL":-890,"LL":376,"NET":-532},{"d":"2019-07-15","UL":-827,"LL":620,"NET":-215},{"d":"2019-08-15","UL":-941,"LL":671,"NET":-279},{"d":"2019-09-15","UL":-878,"LL":734,"NET":-139},{"d":"2019-10-15","UL":-637,"LL":705,"NET":30},{"d":"2019-11-15","UL":-405,"LL":755,"NET":354},{"d":"2019-12-15","UL":-574,"LL":722,"NET":135}
]
},
"vconcat": [
{"width": 1197, "height": 316, "layer": [
 {"data": {"name": "daily"}, "transform": [{"fold": ["aU","aL","aN"], "as": ["s","v"]}],
  "mark": {"type": "line", "strokeWidth": 2.5},
  "encoding": {
   "x": {"field": "d", "type": "temporal", "scale": {"domain": [{"year":2016,"month":11,"date":9},{"year":2020,"month":2,"date":24}]}, "axis": {"title": null, "format": "%Y-%m", "tickCount": {"interval": "month", "step": 4}, "labelPadding": 5, "labelFlush": false, "labelOverlap": false}},
   "y": {"field": "v", "type": "quantitative", "scale": {"domain": [-2000, 2000], "nice": false}, "axis": {"title": "Transport [km³ yr ⁻¹]", "values": [-2000,-1000,0,1000,2000], "format": "d", "labelPadding": 11, "titlePadding": 10, "labelFlush": false}},
   "color": {"field": "s", "type": "nominal", "scale": {"domain": ["aU","aL","aN"], "range": ["#87cefa","#f08080","#d3d3d3"]}, "legend": null}}},
 {"data": {"name": "ma"}, "transform": [{"fold": ["UL","LL","NET"], "as": ["s","v"]}],
  "mark": {"type": "line", "strokeWidth": 3},
  "encoding": {"x": {"field": "d", "type": "temporal"}, "y": {"field": "v", "type": "quantitative"},
   "stroke": {"field": "s", "type": "nominal", "scale": {"domain": ["UL","LL","NET"], "range": ["#0000ff","#ff0000","#000000"]},
    "legend": {"orient": "none", "legendX": 27, "legendY": 233, "direction": "horizontal", "columns": 3, "symbolType": "stroke", "symbolSize": 4624, "symbolStrokeWidth": 3, "labelFontSize": 31, "labelFont": "DejaVu Sans", "labelOffset": 25, "columnPadding": 60, "padding": 0, "title": null, "labelColor": "#000", "labelLimit": 0}}}},
 {"data": {"values": [{"t": "a)"}]}, "mark": {"type": "text", "fontSize": 31, "align": "left", "baseline": "alphabetic", "font": "DejaVu Sans"},
  "encoding": {"x": {"datum": {"year":2016,"month":11,"date":19}, "type": "temporal"}, "y": {"datum": -1900, "type": "quantitative"}, "text": {"field": "t"}}}
]},
{"width": 1197, "height": 316, "layer": [
 {"data": {"name": "daily"}, "transform": [{"fold": ["bU","bL","bN"], "as": ["s","v"]}],
  "mark": {"type": "line", "strokeWidth": 2.5},
  "encoding": {
   "x": {"field": "d", "type": "temporal", "scale": {"domain": [{"year":2016,"month":11,"date":9},{"year":2020,"month":2,"date":24}]}, "axis": {"title": null, "format": "%Y-%m", "tickCount": {"interval": "month", "step": 4}, "labelPadding": 5, "labelFlush": false, "labelOverlap": false}},
   "y": {"field": "v", "type": "quantitative", "scale": {"domain": [-2000, 2000], "nice": false}, "axis": {"title": "Transport [km³ yr ⁻¹]", "values": [-2000,-1000,0,1000,2000], "format": "d", "labelPadding": 11, "titlePadding": 10, "labelFlush": false}},
   "color": {"field": "s", "type": "nominal", "scale": {"domain": ["bU","bL","bN"], "range": ["#87cefa","#f08080","#d3d3d3"]}, "legend": null}}},
 {"data": {"name": "mb"}, "transform": [{"fold": ["UL","LL","NET"], "as": ["s","v"]}],
  "mark": {"type": "line", "strokeWidth": 3},
  "encoding": {"x": {"field": "d", "type": "temporal"}, "y": {"field": "v", "type": "quantitative"},
   "stroke": {"field": "s", "type": "nominal", "scale": {"domain": ["UL","LL","NET"], "range": ["#0000ff","#ff0000","#000000"]}, "legend": null}}},
 {"data": {"values": [{"t": "b)"}]}, "mark": {"type": "text", "fontSize": 31, "align": "left", "baseline": "alphabetic", "font": "DejaVu Sans"},
  "encoding": {"x": {"datum": {"year":2016,"month":11,"date":19}, "type": "temporal"}, "y": {"datum": -1900, "type": "quantitative"}, "text": {"field": "t"}}}
]},
{"width": 1197, "height": 316, "layer": [
 {"data": {"name": "daily"}, "transform": [{"fold": ["cU","cL","cN"], "as": ["s","v"]}],
  "mark": {"type": "line", "strokeWidth": 2.5},
  "encoding": {
   "x": {"field": "d", "type": "temporal", "scale": {"domain": [{"year":2016,"month":11,"date":9},{"year":2020,"month":2,"date":24}]}, "axis": {"title": null, "format": "%Y-%m", "tickCount": {"interval": "month", "step": 4}, "labelPadding": 5, "labelFlush": false, "labelOverlap": false}},
   "y": {"field": "v", "type": "quantitative", "scale": {"domain": [-2000, 2000], "nice": false}, "axis": {"title": "Transport [km³ yr ⁻¹]", "values": [-2000,-1000,0,1000,2000], "format": "d", "labelPadding": 11, "titlePadding": 10, "labelFlush": false}},
   "color": {"field": "s", "type": "nominal", "scale": {"domain": ["cU","cL","cN"], "range": ["#87cefa","#f08080","#d3d3d3"]}, "legend": null}}},
 {"data": {"name": "mc"}, "transform": [{"fold": ["UL","LL","NET"], "as": ["s","v"]}],
  "mark": {"type": "line", "strokeWidth": 3},
  "encoding": {"x": {"field": "d", "type": "temporal"}, "y": {"field": "v", "type": "quantitative"},
   "stroke": {"field": "s", "type": "nominal", "scale": {"domain": ["UL","LL","NET"], "range": ["#0000ff","#ff0000","#000000"]},
    "legend": {"orient": "none", "legendX": 27, "legendY": 233, "direction": "horizontal", "columns": 3, "symbolType": "stroke", "symbolSize": 4624, "symbolStrokeWidth": 3, "labelFontSize": 31, "labelFont": "DejaVu Sans", "labelOffset": 25, "columnPadding": 60, "padding": 0, "title": null, "labelColor": "#000", "labelLimit": 0}}}},
 {"data": {"values": [{"t": "c)"}]}, "mark": {"type": "text", "fontSize": 31, "align": "left", "baseline": "alphabetic", "font": "DejaVu Sans"},
  "encoding": {"x": {"datum": {"year":2016,"month":11,"date":19}, "type": "temporal"}, "y": {"datum": -1900, "type": "quantitative"}, "text": {"field": "t"}}}
]},
{"width": 1197, "height": 316, "layer": [
 {"data": {"name": "daily"}, "transform": [{"fold": ["dU","dL","dN"], "as": ["s","v"]}],
  "mark": {"type": "line", "strokeWidth": 2.5},
  "encoding": {
   "x": {"field": "d", "type": "temporal", "scale": {"domain": [{"year":2016,"month":11,"date":9},{"year":2020,"month":2,"date":24}]}, "axis": {"title": null, "format": "%Y-%m", "tickCount": {"interval": "month", "step": 4}, "labelPadding": 5, "labelFlush": false, "labelOverlap": false}},
   "y": {"field": "v", "type": "quantitative", "scale": {"domain": [-2000, 2000], "nice": false}, "axis": {"title": "Transport [km³ yr ⁻¹]", "values": [-2000,-1000,0,1000,2000], "format": "d", "labelPadding": 11, "titlePadding": 10, "labelFlush": false}},
   "color": {"field": "s", "type": "nominal", "scale": {"domain": ["dU","dL","dN"], "range": ["#87cefa","#f08080","#d3d3d3"]}, "legend": null}}},
 {"data": {"name": "md"}, "transform": [{"fold": ["UL","LL","NET"], "as": ["s","v"]}],
  "mark": {"type": "line", "strokeWidth": 3},
  "encoding": {"x": {"field": "d", "type": "temporal"}, "y": {"field": "v", "type": "quantitative"},
   "stroke": {"field": "s", "type": "nominal", "scale": {"domain": ["UL","LL","NET"], "range": ["#0000ff","#ff0000","#000000"]}, "legend": null}}},
 {"data": {"values": [{"t": "d)"}]}, "mark": {"type": "text", "fontSize": 31, "align": "left", "baseline": "alphabetic", "font": "DejaVu Sans"},
  "encoding": {"x": {"datum": {"year":2016,"month":11,"date":19}, "type": "temporal"}, "y": {"datum": -1900, "type": "quantitative"}, "text": {"field": "t"}}}
]}
]
}
